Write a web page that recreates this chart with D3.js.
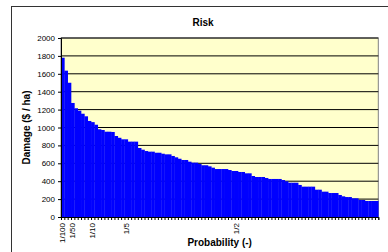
<!DOCTYPE html>
<html>
<head>
<meta charset="utf-8">
<script src="https://cdn.jsdelivr.net/npm/d3@7"></script>
<style>
  body { margin: 0; background: #fff; }
  svg { display: block; font-family: Arial, "Liberation Sans", sans-serif; }
</style>
</head>
<body>
<svg width="388" height="252"></svg>
<script>
// damage per category, sorted high to low ($ / ha)
const damage = [
  1780, 1635, 1500, 1274, 1215, 1188, 1154, 1125, 1073, 1060,
  1031, 980, 972, 953, 953, 950, 905, 885, 868, 868,
  842, 842, 842, 771, 752, 737, 730, 730, 718, 718,
  707, 700, 700, 682, 667, 651, 637, 637, 618, 607,
  607, 592, 578, 578, 566, 551, 536, 536, 536, 536,
  525, 514, 514, 503, 503, 488, 488, 458, 447, 447,
  447, 436, 425, 425, 425, 425, 413, 399, 383, 383,
  383, 358, 339, 339, 339, 339, 305, 305, 283, 283,
  268, 268, 268, 246, 231, 223, 223, 209, 209, 190,
  190, 179, 179, 179, 179
];
// which categories carry a probability label
const labelIndex = [0, 3, 9, 19, 52];
const labelText = ["1/100", "1/50", "1/10", "1/5", "1/2"];
const yTicks = [0, 200, 400, 600, 800, 1000, 1200, 1400, 1600, 1800, 2000];

const svg = d3.select('svg');

// plot area
const plotL = 61, plotR = 378.3, plotT = 38, plotB = 217;

// outer chart border
svg.append('rect')
    .attr('x', 11.5).attr('y', 6.5)
    .attr('width', 400).attr('height', 260)
    .attr('fill', '#fff')
    .attr('stroke', '#333').attr('stroke-width', 1);

const x = d3.scaleBand()
    .domain(damage.map((d, i) => i))
    .range([plotL, plotR])
    .padding(0);

const y = d3.scaleLinear()
    .domain([0, 2000])
    .range([plotB, plotT]);

// background
svg.append('rect')
    .attr('x', plotL).attr('y', plotT)
    .attr('width', plotR - plotL).attr('height', plotB - plotT)
    .attr('fill', '#ffffcc')
    .attr('stroke', '#808080');

// gridlines
svg.append('g')
    .selectAll('line')
    .data(yTicks.slice(1))
    .enter()
    .append('line')
    .attr('x1', plotL).attr('x2', plotR)
    .attr('y1', d => y(d)).attr('y2', d => y(d))
    .attr('stroke', '#000')
    .attr('stroke-width', 1);

// bars
svg.append('g')
    .selectAll('rect')
    .data(damage)
    .enter()
    .append('rect')
    .attr('x', (d, i) => x(i))
    .attr('width', x.bandwidth() + 0.3)
    .attr('y', d => y(d))
    .attr('height', d => plotB - y(d))
    .attr('fill', '#0000ff');

// y axis
const yAxis = d3.axisLeft(y).tickValues(yTicks).tickSize(3).tickPadding(3).tickFormat(d3.format('d'));
const gy = svg.append('g')
    .attr('transform', `translate(${plotL},0)`)
    .call(yAxis);
gy.select('.domain').attr('stroke', '#000');
gy.selectAll('text').style('font-size', '8px').attr('fill', '#000');

// x axis: ticks between categories
const xi = d3.scaleLinear().domain([0, damage.length]).range([plotL, plotR]);
const gx = svg.append('g')
    .attr('transform', `translate(0,${plotB})`)
    .call(d3.axisBottom(xi).tickValues(d3.range(damage.length + 1)).tickSize(3).tickFormat(''));
gx.select('.domain').attr('stroke', '#000');

// probability labels
svg.append('g')
    .selectAll('text')
    .data(labelIndex)
    .enter()
    .append('text')
    .attr('transform', (d) => `translate(${x(d) + x.bandwidth() / 2 + 2.5},223) rotate(-90)`)
    .attr('text-anchor', 'end')
    .style('font-size', '8px')
    .text((d, i) => labelText[i]);

// title and axis labels
svg.append('text')
    .attr('x', 203).attr('y', 25.5)
    .attr('text-anchor', 'middle')
    .style('font-size', '10px').style('font-weight', 'bold')
    .text('Risk');

svg.append('text')
    .attr('x', (plotL + plotR) / 2).attr('y', 246)
    .attr('text-anchor', 'middle')
    .style('font-size', '10px').style('font-weight', 'bold')
    .text('Probability (-)');

svg.append('text')
    .attr('transform', `translate(30,${(plotT + plotB) / 2}) rotate(-90)`)
    .attr('text-anchor', 'middle')
    .style('font-size', '10px').style('font-weight', 'bold')
    .text('Damage ($ / ha)');
</script>
</body>
</html>
